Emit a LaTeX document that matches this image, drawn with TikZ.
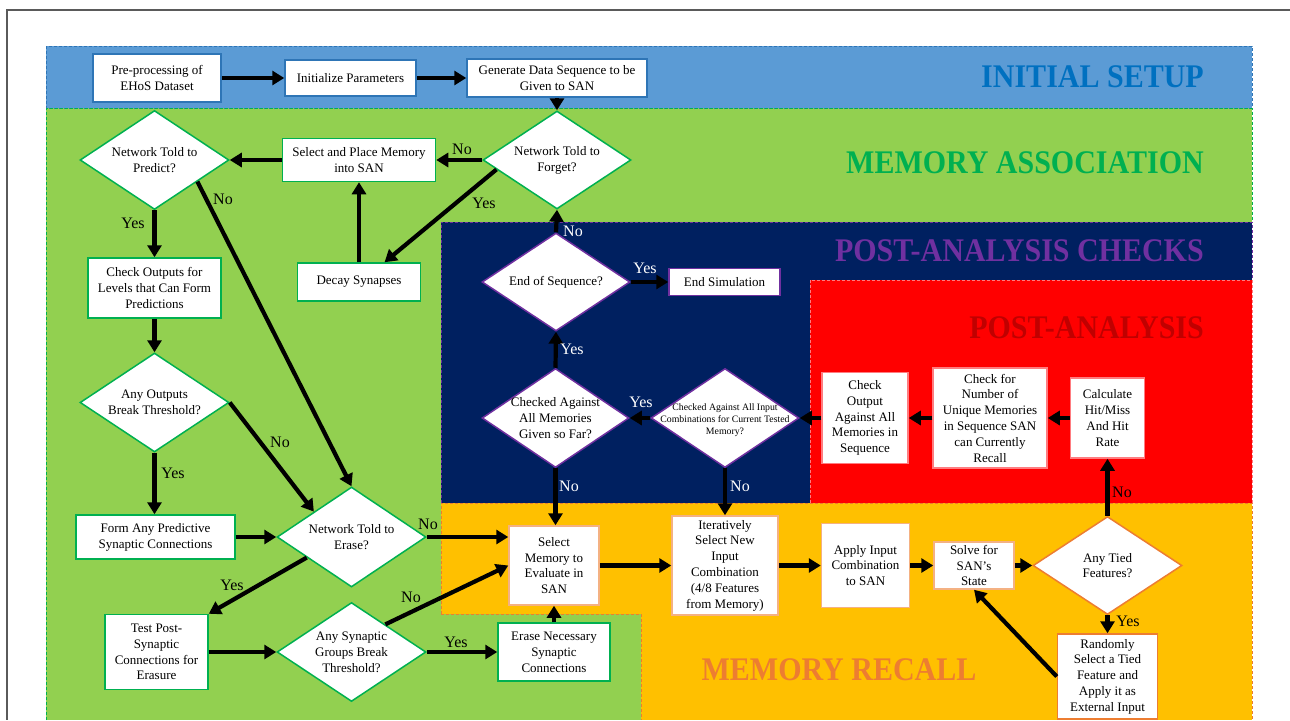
\documentclass[tikz,border=0pt]{standalone}
\usepackage{fontspec}
\setmainfont{Liberation Serif}
\usetikzlibrary{shapes.geometric,arrows.meta,calc}
\definecolor{bandblue}{HTML}{5B9BD5}
\definecolor{bandgreen}{HTML}{92D050}
\definecolor{bandnavy}{HTML}{002060}
\definecolor{bandred}{HTML}{FF0000}
\definecolor{bandorange}{HTML}{FFC000}
\definecolor{edgeblue}{HTML}{2E75B6}
\definecolor{edgegreen}{HTML}{00B050}
\definecolor{edgepurple}{HTML}{7030A0}
\definecolor{edgepink}{HTML}{FF7C80}
\definecolor{edgeorange}{HTML}{F4B183}
\definecolor{dashorange}{HTML}{ED7D31}
\definecolor{titleblue}{HTML}{0070C0}
\definecolor{titlegreen}{HTML}{00B050}
\definecolor{titlepurple}{HTML}{7030A0}
\definecolor{titlered}{HTML}{C00000}
\definecolor{titleorange}{HTML}{ED7D31}
\definecolor{framegray}{HTML}{5A5A5A}
\newcommand\boxfont{\fontsize{13}{15.8}\selectfont}
\newcommand\smallboxfont{\fontsize{9.8}{12}\selectfont}
\newcommand\labfont{\fontsize{16}{18}\selectfont}
\newcommand\titlefont{\fontsize{30}{32}\selectfont\bfseries}
\newcommand\ttl[1]{\scalebox{1}[1.1]{#1}}
\tikzset{
  boxnode/.style={rectangle, draw, fill=white, line width=1.5pt, align=center, inner sep=1pt, font=\boxfont, text=black},
  dianode/.style={diamond, draw, fill=white, line width=1.5pt, inner sep=0pt},
  dtext/.style={align=center, font=\boxfont, text=black, inner sep=0pt},
  dsmall/.style={align=center, font=\smallboxfont, text=black, inner sep=0pt},
  arr/.style={line width=4.2pt, -{Triangle[length=12pt,width=14pt]}, black},
  lab/.style={font=\labfont, inner sep=0pt, text=black},
  labw/.style={font=\labfont, inner sep=0pt, text=white},
  region/.style={dashed, dash pattern=on 3pt off 2pt, line width=1pt},
  ttlnode/.style={font=\titlefont, inner sep=0pt}
}
\begin{document}
\begin{tikzpicture}[x=1pt, y={(0pt,-1pt)}]
\useasboundingbox (0,0) rectangle (1290,720);
\fill[white] (0,0) rectangle (1290,720);
% frame
\draw[framegray, line width=1.5pt] (1290,10) -- (7,10) -- (7,720);
% regions
\fill[bandblue] (46,46) rectangle (1252,108);
\fill[bandgreen] (46,108) rectangle (1252,720);
\fill[bandnavy] (441,222) rectangle (1252,503);
\fill[bandred] (810,280) rectangle (1252,503);
\fill[bandorange] (441,503) rectangle (1252,720);
\fill[bandgreen] (441,614) rectangle (641,720);
\draw[region, edgeblue] (46,46) rectangle (1252,108);
\draw[region, edgegreen] (46,720) -- (46,108.8) -- (1252,108.8) -- (1252,222);
\draw[region, edgepurple] (441,503) -- (441,222) -- (1252,222) -- (1252,280);
\draw[region, edgepink] (810,503) -- (810,280) -- (1252,280) -- (1252,503);
\draw[region, dashorange] (441,614) -- (441,503) -- (1252,503) -- (1252,720);
\draw[region, dashorange] (441,614) -- (641,614) -- (641,720);
% titles
\node[ttlnode, text=titleblue, anchor=base east] (t1) at (1204,87) {\ttl{INITIAL SETUP}};
\node[ttlnode, text=titlegreen, anchor=base east] (t2) at (1204,173) {\ttl{MEMORY ASSOCIATION}};
\node[ttlnode, text=titlepurple, anchor=base east] (t3) at (1204,261) {\ttl{POST-ANALYSIS CHECKS}};
\node[ttlnode, text=titlered, anchor=base east] (t4) at (1204,338) {\ttl{POST-ANALYSIS}};
\node[ttlnode, text=titleorange, anchor=base] (t5) at (839,680) {\ttl{MEMORY RECALL}};
% initial setup
\node[boxnode, draw=edgeblue, minimum width=128, minimum height=48] (pre) at (157,78) {Pre-processing of\\EHoS Dataset};
\node[boxnode, draw=edgeblue, minimum width=131, minimum height=36] (init) at (350.5,78) {Initialize Parameters};
\node[boxnode, draw=edgeblue, minimum width=180, minimum height=38] (gen) at (557,78) {Generate Data Sequence to be\\Given to SAN};
% memory association
\node[dianode, draw=edgegreen, minimum width=148, minimum height=98, label={[dtext]center:Network Told to\\Forget?}] (forget) at (557,160) {};
\node[boxnode, draw=edgegreen, minimum width=153, minimum height=43] (selplace) at (359,160) {Select and Place Memory\\into SAN};
\node[dianode, draw=edgegreen, minimum width=149, minimum height=99, label={[dtext]center:Network Told to\\Predict?}] (predict) at (154.5,160) {};
\node[boxnode, draw=edgegreen, minimum width=123, minimum height=38] (decay) at (359,282) {Decay Synapses};
\node[boxnode, draw=edgegreen, minimum width=133, minimum height=60] (checkout) at (154.5,288) {Check Outputs for\\Levels that Can Form\\Predictions};
\node[dianode, draw=edgegreen, minimum width=149, minimum height=99, label={[dtext]center:Any Outputs\\Break Threshold?}] (anyout) at (154.5,402.5) {};
\node[boxnode, draw=edgegreen, minimum width=159, minimum height=44] (form) at (155.5,537) {Form Any Predictive\\Synaptic Connections};
\node[dianode, draw=edgegreen, minimum width=149, minimum height=100, label={[dtext]center:Network Told to\\Erase?}] (erase) at (351.5,537) {};
\node[boxnode, draw=edgegreen, minimum width=103, minimum height=75] (test) at (156.5,652) {Test Post-\\Synaptic\\Connections for\\Erasure};
\node[dianode, draw=edgegreen, minimum width=149, minimum height=99, label={[dtext]center:Any Synaptic\\Groups Break\\Threshold?}] (anysyn) at (351.5,652) {};
\node[boxnode, draw=edgegreen, minimum width=112, minimum height=58] (erasenec) at (554,652) {Erase Necessary\\Synaptic\\Connections};
% memory recall
\node[boxnode, draw=edgeorange, minimum width=90, minimum height=79] (selmem) at (554,565.5) {Select\\Memory to\\Evaluate in\\SAN};
\node[boxnode, draw=edgeorange, minimum width=106, minimum height=99] (iter) at (725,565.5) {Iteratively\\Select New\\Input\\Combination\\(4/8 Features\\from Memory)};
\node[boxnode, draw=edgeorange, minimum width=88, minimum height=84] (apply) at (865.5,565.5) {Apply Input\\Combination\\to SAN};
\node[boxnode, draw=edgeorange, minimum width=80, minimum height=47] (solve) at (974,565.5) {Solve for\\SAN’s\\State};
\node[dianode, draw=dashorange, minimum width=149, minimum height=98, label={[dtext]center:Any Tied\\Features?}] (tied) at (1107.5,565.5) {};
\node[boxnode, draw=dashorange, minimum width=100, minimum height=85] (random) at (1107.5,676.5) {Randomly\\Select a Tied\\Feature and\\Apply it as\\External Input};
% post-analysis
\node[boxnode, draw=edgepink, minimum width=74, minimum height=80] (calc) at (1107.5,418) {Calculate\\Hit/Miss\\And Hit\\Rate};
\node[boxnode, draw=edgepink, minimum width=114, minimum height=100] (checkfor) at (990,418) {Check for\\Number of\\Unique Memories\\in Sequence SAN\\can Currently\\Recall};
\node[boxnode, draw=edgepink, minimum width=86, minimum height=91] (checkoutput) at (865,418) {Check\\Output\\Against All\\Memories in\\Sequence};
% post-analysis checks
\node[dianode, draw=edgepurple, minimum width=148, minimum height=99, label={[dsmall, yshift=-2.5pt]center:Checked Against All Input\\Combinations for Current Tested\\Memory?}] (comb) at (725,418) {};
\node[dianode, draw=edgepurple, minimum width=147, minimum height=99, label={[dtext]center:Checked Against\\All Memories\\Given so Far?}] (allmem) at (555.5,418) {};
\node[dianode, draw=edgepurple, minimum width=148, minimum height=98, label={[dtext]center:End of Sequence?}] (endseq) at (556,282) {};
\node[boxnode, draw=edgepurple, minimum width=111, minimum height=27] (endsim) at (724.5,282) {End Simulation};
% connectors
\draw[arr] (pre.east) -- (init.west);
\draw[arr] (init.east) -- (gen.west);
\draw[arr] (gen.south) -- (forget.north);
\draw[arr] (forget.west) -- (selplace.east);
\draw[arr] (selplace.west) -- (predict.east);
\draw[arr] ($(forget.west)!0.19!(forget.south)$) -- ($(decay.north)!0.41!(decay.north east)$);
\draw[arr] (decay.north) -- (selplace.south);
\draw[arr] (predict.south) -- (checkout.north);
\draw[arr] ($(predict.east)!0.43!(predict.south)$) -- (erase.north);
\draw[arr] (checkout.south) -- (anyout.north);
\draw[arr] (anyout.south) -- (anyout.south |- form.north);
\draw[arr] (anyout.east) -- (erase.north west);
\draw[arr] (form.east) -- (erase.west);
\draw[arr] (erase.east) -- (erase.east -| selmem.west);
\draw[arr] ($(erase.west)!0.405!(erase.south)$) -- (test.north east);
\draw[arr] (test.east) -- (anysyn.west);
\draw[arr] ($(anysyn.north)!0.45!(anysyn.east)$) -- (selmem.west);
\draw[arr] (anysyn.east) -- (erasenec.west);
\draw[arr] (erasenec.north) -- (selmem.south);
\draw[arr] (selmem.east) -- (iter.west);
\draw[arr] (iter.east) -- (apply.west);
\draw[arr] (apply.east) -- (solve.west);
\draw[arr] (solve.east) -- (tied.west);
\draw[arr] (tied.south) -- (random.north);
\draw[arr] (random.west) -- (solve.south);
\draw[arr] (tied.north) -- (calc.south);
\draw[arr] (calc.west) -- (checkfor.east);
\draw[arr] (checkfor.west) -- (checkoutput.east);
\draw[arr] (checkoutput.west) -- (comb.east);
\draw[arr] (comb.west) -- (allmem.east);
\draw[arr] (comb.south) -- (iter.north);
\draw[arr] (allmem.south) -- (allmem.south |- selmem.north);
\draw[arr] (allmem.north) -- (endseq.south);
\draw[arr] (endseq.east) -- (endsim.west);
\draw[arr] (endseq.north) -- (forget.south);
% connector labels
\node[lab] (l1) at (462,149) {No};
\node[lab] (l2) at (484,203) {Yes};
\node[lab] (l3) at (223,199) {No};
\node[lab] (l4) at (133,223) {Yes};
\node[labw] (l5) at (573,231) {No};
\node[labw] (l6) at (645,268) {Yes};
\node[labw] (l7) at (572,349) {Yes};
\node[labw] (l8) at (641,402) {Yes};
\node[labw] (l9) at (569,486) {No};
\node[labw] (l10) at (740,486) {No};
\node[lab] (l11) at (1122,492) {No};
\node[lab] (l12) at (1128,621) {Yes};
\node[lab] (l13) at (280,442) {No};
\node[lab] (l14) at (173,473) {Yes};
\node[lab] (l15) at (428,524) {No};
\node[lab] (l16) at (232,585) {Yes};
\node[lab] (l17) at (411,597) {No};
\node[lab] (l18) at (456,642) {Yes};
\end{tikzpicture}
\end{document}
